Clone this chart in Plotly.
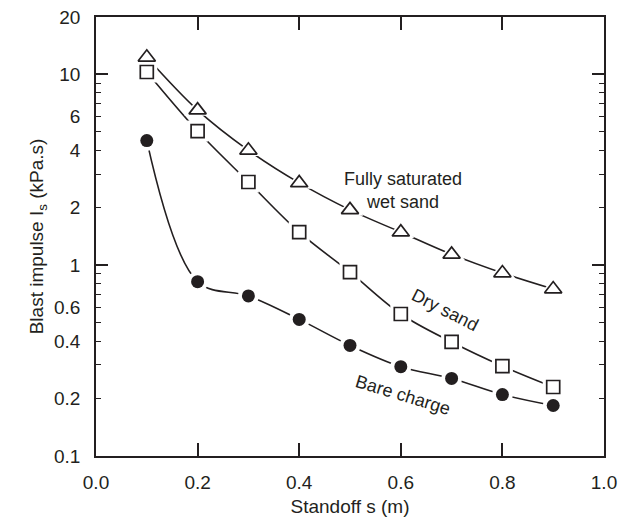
import plotly.graph_objects as go

standoff = [0.1, 0.2, 0.3, 0.4, 0.5, 0.6, 0.7, 0.8, 0.9]
wet_sand = [12.3, 6.5, 4.0, 2.7, 1.95, 1.49, 1.14, 0.91, 0.75]
dry_sand = [10.3, 5.05, 2.73, 1.49, 0.92, 0.555, 0.396, 0.296, 0.23]
bare_charge = [4.5, 0.82, 0.69, 0.52, 0.38, 0.294, 0.255, 0.21, 0.184]

y_label_vals = [0.1, 0.2, 0.4, 0.6, 1, 2, 4, 6, 10, 20]
y_label_text = ["0.1", "0.2", "0.4", "0.6", "1", "2", "4", "6", "10", "20"]
y_minor_vals = [0.3, 0.5, 0.7, 0.8, 0.9, 3, 5, 7, 8, 9]
y_decades = [0.1, 1, 10]
x_ticks = [0.0, 0.2, 0.4, 0.6, 0.8, 1.0]
x_tick_text = ["0.0", "0.2", "0.4", "0.6", "0.8", "1.0"]

INK = "#231f20"
FONT = "Liberation Sans, Arial, sans-serif"

fig = go.Figure()

series = [
    (wet_sand, "triangle-up", "triangle-up-open", 15),
    (dry_sand, "square", "square-open", 13),
    (bare_charge, "circle", "circle", 13),
]

for vals, solid, sym, size in series:
    fig.add_trace(go.Scatter(x=standoff, y=vals, mode="lines",
                             line=dict(color=INK, width=1.6, shape="spline", smoothing=1.0),
                             hoverinfo="skip", showlegend=False))
for vals, solid, sym, size in series:
    fig.add_trace(go.Scatter(x=standoff, y=vals, mode="markers",
                             marker=dict(symbol=solid, size=size + 8, color="white",
                                         line=dict(width=0)),
                             hoverinfo="skip", showlegend=False))
for vals, solid, sym, size in series:
    if sym == "circle":
        mk = dict(symbol=sym, size=size, color=INK, line=dict(width=0))
    else:
        mk = dict(symbol=sym, size=size, color=INK, line=dict(width=1.7, color=INK))
    fig.add_trace(go.Scatter(x=standoff, y=vals, mode="markers", marker=mk,
                             showlegend=False))

# overlay axis for long decade ticks
fig.add_trace(go.Scatter(x=[0.5], y=[1], yaxis="y2", mode="markers",
                         marker=dict(opacity=0), hoverinfo="skip", showlegend=False))

fig.update_layout(
    width=621, height=526,
    margin=dict(l=96, r=17, t=17, b=70),
    paper_bgcolor="white", plot_bgcolor="white",
    font=dict(family=FONT, size=19, color=INK),
    xaxis=dict(range=[0, 1], tickvals=x_ticks, ticktext=x_tick_text,
               ticks="inside", ticklen=13, tickwidth=1.5, tickcolor=INK,
               ticklabelstandoff=8, automargin=False,
               showline=True, linecolor=INK, linewidth=1.8, mirror="ticks",
               showgrid=False, zeroline=False,
               title=dict(text="Standoff s (m)", standoff=8, font=dict(size=19))),
    yaxis=dict(type="log", range=[-1, 1.30103], tickvals=y_label_vals, ticktext=y_label_text,
               ticks="inside", ticklen=5, tickwidth=1.3, tickcolor=INK,
               ticklabelstandoff=10, automargin=False,
               minor=dict(tickvals=y_minor_vals, ticks="inside", ticklen=5,
                          tickwidth=1.3, tickcolor=INK, showgrid=False),
               showline=True, linecolor=INK, linewidth=1.8, mirror="ticks",
               showgrid=False, zeroline=False,
               title=dict(text="Blast impulse I<sub>s</sub> (kPa.s)", standoff=5,
                          font=dict(size=19))),
    yaxis2=dict(type="log", range=[-1, 1.30103], overlaying="y", side="left",
                tickvals=y_decades, showticklabels=False, automargin=False,
                ticks="inside", ticklen=12, tickwidth=1.5, tickcolor=INK,
                showline=False, mirror="ticks", showgrid=False, zeroline=False),
)

fig.add_annotation(x=0.604, y=0.394, yref="y", text="Fully saturated<br>wet sand",
                   showarrow=False, font=dict(size=18, color=INK), align="center")
fig.add_annotation(x=0.687, y=-0.235, text="Dry sand", textangle=27,
                   showarrow=False, font=dict(size=18, color=INK))
fig.add_annotation(x=0.604, y=-0.68, text="Bare charge", textangle=17,
                   showarrow=False, font=dict(size=18, color=INK))

fig.write_html("out.html")
